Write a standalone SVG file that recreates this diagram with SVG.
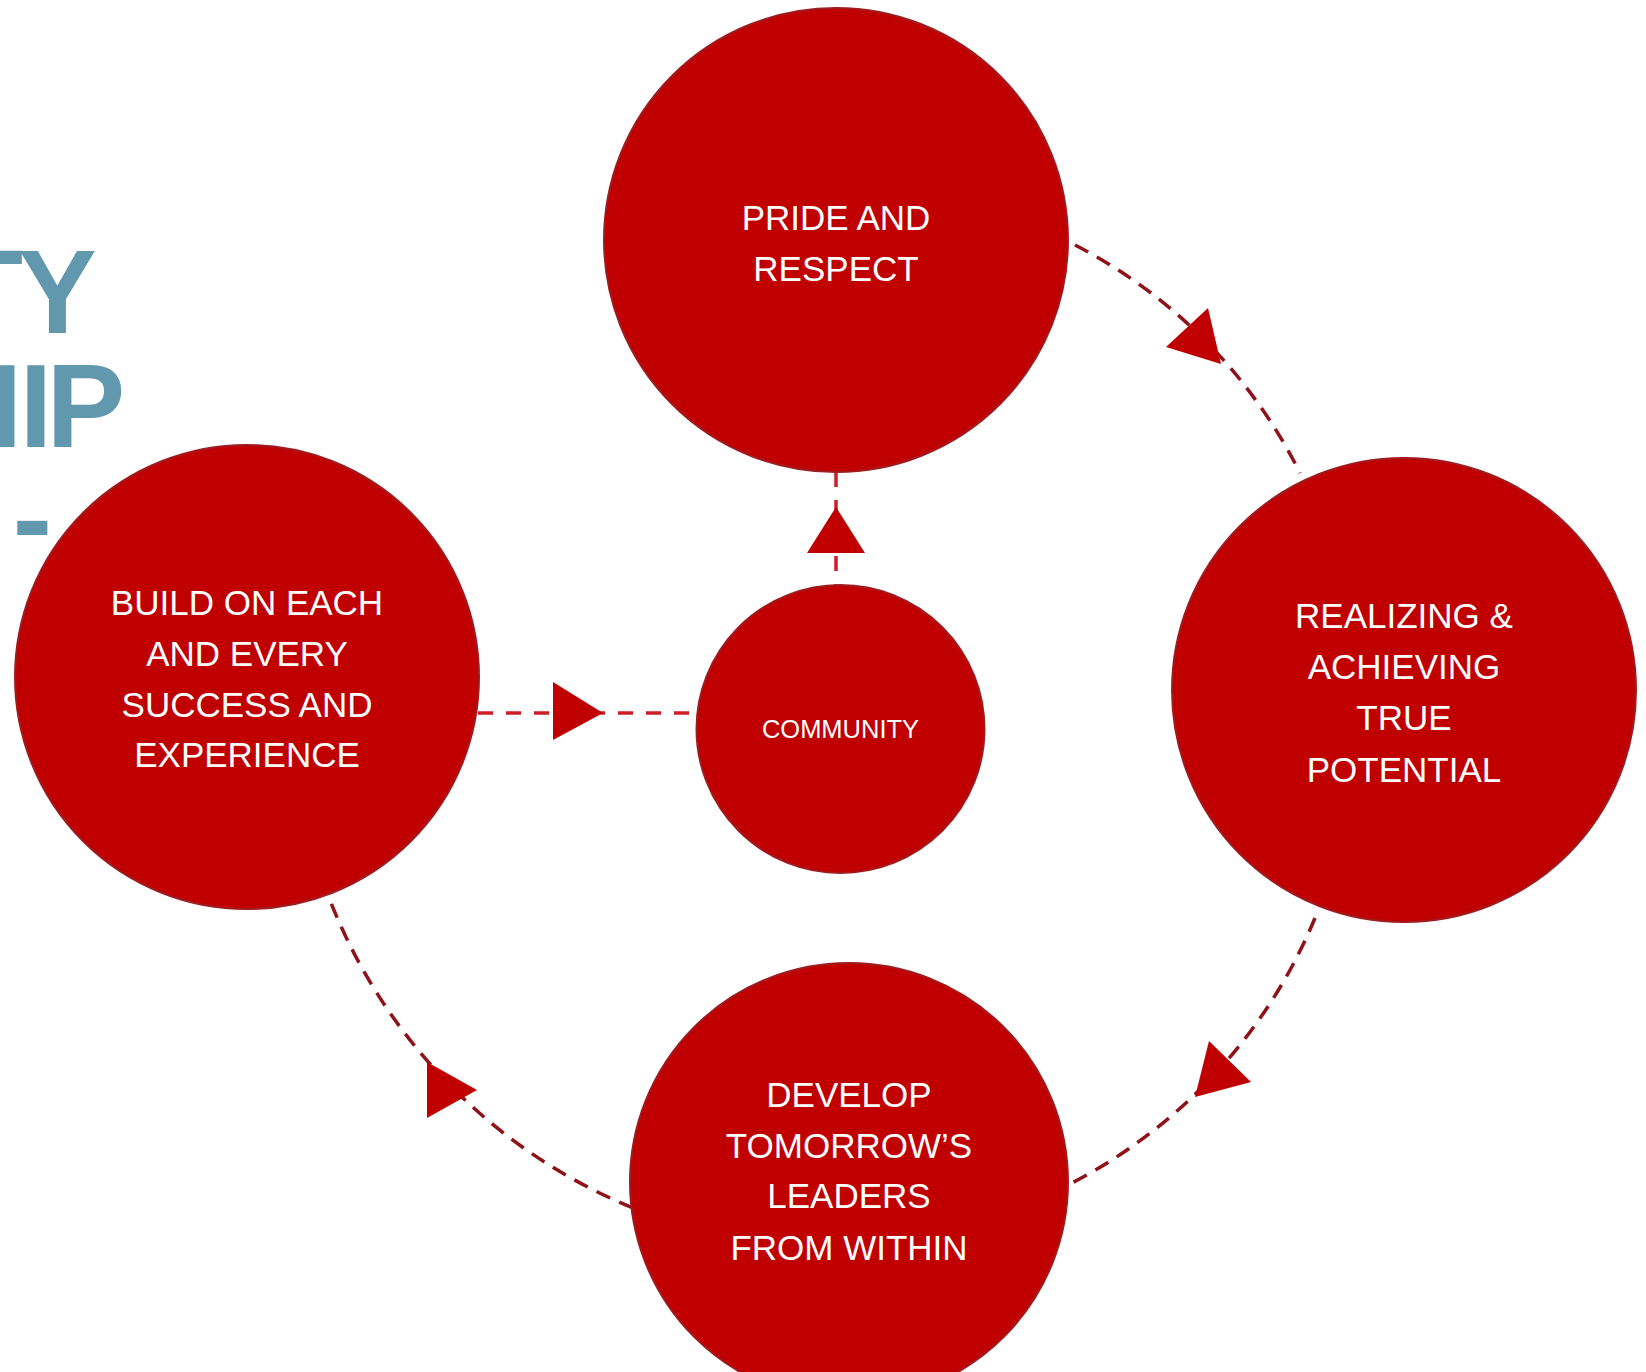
<svg xmlns="http://www.w3.org/2000/svg" width="1646" height="1372" viewBox="0 0 1646 1372">
<style>
.node{fill:#C00000;stroke:#9E1B20;stroke-width:2}
.lbl{font-family:"Liberation Sans",Arial,sans-serif;font-size:35px;fill:#FFFFFF;text-anchor:middle}
.small{font-size:25.5px}
.curve{fill:none;stroke:#8F1218;stroke-width:3.5;stroke-dasharray:15 10}
.straight{fill:none;stroke:#CC1F26;stroke-width:3.5;stroke-dasharray:15 13}
.head{fill:#C00000}
.title{font-family:"Liberation Sans",Arial,sans-serif;font-weight:bold;font-size:118px;fill:#6298AD}
</style>
<rect width="1646" height="1372" fill="#FFFFFF"/>
<g id="title">
<text class="title" x="-49 18" y="333">TY</text>
<text class="title" x="-10.5 19.5 46.4" y="447">IIP</text>
<text class="title" x="12.7" y="559">-</text>
</g>
<g id="connectors">
<path class="curve" d="M1075,245 A515,515 0 0 1 1300,473"/>
<path class="curve" d="M1315,918 A525,525 0 0 1 1068,1185"/>
<path class="curve" d="M633,1208 A548,548 0 0 1 328,895"/>
<path class="straight" d="M836,472 L836,585"/>
<path class="straight" d="M478,713 L692,713"/>
<polygon class="head" points="1166,347 1208,308 1221,364"/>
<polygon class="head" points="1209,1041 1251,1082 1195,1097"/>
<polygon class="head" points="427,1062 477,1090 427,1118"/>
<polygon class="head" points="836,507 807,553 865,553"/>
<polygon class="head" points="553,682 553,740 603,713"/>
</g>
<g id="node-pride">
<circle class="node" cx="836" cy="240" r="232"/>
<text class="lbl" x="836" y="230">PRIDE AND</text>
<text class="lbl" x="836" y="281">RESPECT</text>
</g>
<g id="node-realizing">
<circle class="node" cx="1404" cy="690" r="232"/>
<text class="lbl" x="1404" y="628">REALIZING &amp;</text>
<text class="lbl" x="1404" y="679">ACHIEVING</text>
<text class="lbl" x="1404" y="730">TRUE</text>
<text class="lbl" x="1404" y="782">POTENTIAL</text>
</g>
<g id="node-develop">
<circle class="node" cx="849" cy="1182" r="219"/>
<text class="lbl" x="849" y="1107">DEVELOP</text>
<text class="lbl" x="849" y="1158">TOMORROW’S</text>
<text class="lbl" x="849" y="1208">LEADERS</text>
<text class="lbl" x="849" y="1260">FROM WITHIN</text>
</g>
<g id="node-build">
<circle class="node" cx="247" cy="677" r="232"/>
<text class="lbl" x="247" y="615">BUILD ON EACH</text>
<text class="lbl" x="247" y="666">AND EVERY</text>
<text class="lbl" x="247" y="717">SUCCESS AND</text>
<text class="lbl" x="247" y="767">EXPERIENCE</text>
</g>
<g id="node-community">
<circle class="node" cx="840.5" cy="729" r="144"/>
<text class="lbl small" x="840.5" y="738">COMMUNITY</text>
</g>
</svg>
